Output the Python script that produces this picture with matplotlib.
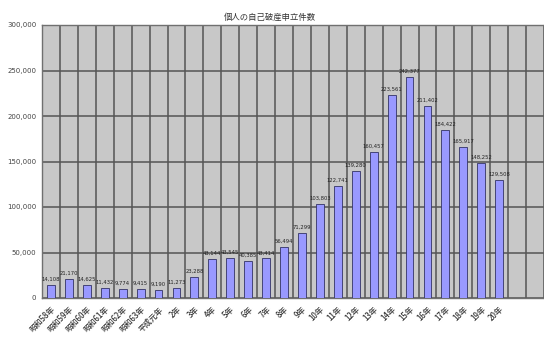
import matplotlib
matplotlib.use("Agg")
import matplotlib.pyplot as plt
import numpy as np

plt.rcParams['font.family'] = ['Noto Sans CJK JP', 'DejaVu Sans']

categories = ["昭和58年", "昭和59年", "昭和60年", "昭和61年", "昭和62年", "昭和63年",
              "平成元年", "2年", "3年", "4年", "5年", "6年", "7年", "8年", "9年",
              "10年", "11年", "12年", "13年", "14年", "15年", "16年", "17年", "18年",
              "19年", "20年"]
values = [14108, 21170, 14625, 11432, 9774, 9415, 9190, 11273, 23288, 43144,
          43545, 40385, 43414, 56494, 71299, 103803, 122741, 139280, 160457,
          223561, 242377, 211402, 184422, 165917, 148252, 129508]
yticks = [0, 50000, 100000, 150000, 200000, 250000, 300000]
title = "個人の自己破産申立件数"

fig = plt.figure(figsize=(5.44, 3.38), dpi=100)
ax = fig.add_axes([42/544, 1-298/338, 1-42/544, (298-25)/338])
ax.set_facecolor('#c8c8c8')

x = np.arange(len(values))
ax.bar(x, values, width=0.44, color='#9999ff', edgecolor='#333366', linewidth=0.6, zorder=3)

for xi, v in zip(x, values):
    ax.text(xi, v + 3500, f"{v:,}", ha='center', va='bottom', fontsize=3.8,
            color='#222222', zorder=4, family='DejaVu Sans')

ax.set_xlim(-0.5, 27.4)
ax.set_ylim(0, 300000)
ax.set_yticks(yticks)
ax.set_yticklabels([f"{t:,}" for t in yticks], fontsize=5, color='#444444', family='DejaVu Sans')
ax.set_xticks(x)
ax.set_xticklabels(categories, rotation=45, ha='right', rotation_mode='anchor',
                   fontsize=5.6, color='#333333', fontweight='medium')
ax.set_xticks(np.arange(-0.5, 28.5, 1), minor=True)
ax.tick_params(axis='both', which='both', length=0)
ax.tick_params(axis='x', which='major', pad=5)
ax.tick_params(axis='y', pad=4)

ax.grid(True, axis='y', which='major', color='#555555', linewidth=1.1, zorder=1)
ax.grid(True, axis='x', which='minor', color='#555555', linewidth=1.1, zorder=1)
ax.grid(False, axis='x', which='major')
ax.set_axisbelow(True)
for s in ax.spines.values():
    s.set_color('#707070')
    s.set_linewidth(1.0)

fig.text(270/544, 1-17/338, title, ha='center', va='center', fontsize=6, color='#333333')

fig.savefig("out.png", dpi=100)
